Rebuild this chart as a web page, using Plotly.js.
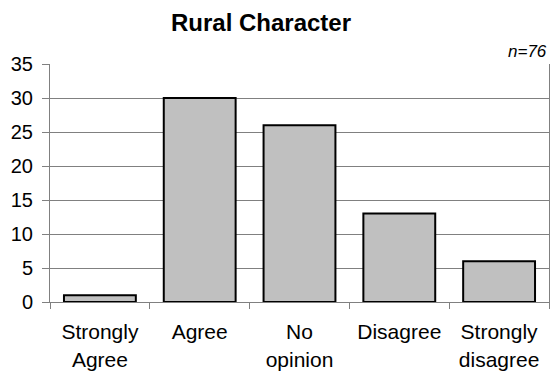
<!DOCTYPE html>
<html>
<head>
<meta charset="utf-8">
<script src="https://cdn.plot.ly/plotly-3.0.1.min.js"></script>
<style>html,body{margin:0;padding:0;background:#fff;}#chart{width:551px;height:377px;}</style>
</head>
<body>
<div id="chart"></div>
<script>
const categories = ["Strongly<br>Agree", "Agree", "No<br>opinion", "Disagree", "Strongly<br>disagree"];
const counts = [1, 30, 26, 13, 6];
const yTicks = [0, 5, 10, 15, 20, 25, 30, 35];
const chartTitle = "Rural Character";
const sampleNote = "n=76";

const trace = {
  type: "bar",
  x: categories,
  y: counts,
  marker: {color: "#c0c0c0", line: {color: "#000000", width: 2}},
  hoverinfo: "skip"
};

const layout = {
  width: 551, height: 377,
  margin: {l: 50, r: 2, t: 64, b: 75},
  paper_bgcolor: "#ffffff", plot_bgcolor: "#ffffff",
  font: {family: "Liberation Sans, Arial, sans-serif", color: "#000000", size: 20},
  bargap: 0.28,
  showlegend: false,
  title: {
    text: "<b>" + chartTitle + "</b>",
    font: {size: 24, family: "Liberation Sans, Arial, sans-serif", color: "#000000"},
    x: 261/551, xref: "container", xanchor: "center",
    y: 1 - 23/377, yref: "container", yanchor: "middle"
  },
  xaxis: {
    type: "category",
    showline: true, linecolor: "#808080", linewidth: 1,
    ticks: "outside", tickson: "boundaries", ticklen: 6, tickcolor: "#808080", tickwidth: 1,
    ticklabelstandoff: 11,
    showgrid: false, zeroline: false,
    tickfont: {size: 21},
    fixedrange: true
  },
  yaxis: {
    range: [0, 35],
    tickvals: yTicks,
    ticktext: yTicks.map(String),
    showline: true, linecolor: "#808080", linewidth: 1, mirror: true,
    ticks: "outside", ticklen: 7, tickcolor: "#808080", tickwidth: 1,
    ticklabelstandoff: 5,
    showgrid: true, gridcolor: "#808080", gridwidth: 1,
    zeroline: false,
    tickfont: {size: 20},
    fixedrange: true
  },
  annotations: [{
    text: "<i>" + sampleNote + "</i>",
    xref: "paper", yref: "paper", x: 1, y: 1,
    xanchor: "right", yanchor: "bottom", yshift: 1,
    showarrow: false,
    font: {size: 17, color: "#000000"}
  }]
};

Plotly.newPlot("chart", [trace], layout, {displayModeBar: false, staticPlot: true});
</script>
</body>
</html>
